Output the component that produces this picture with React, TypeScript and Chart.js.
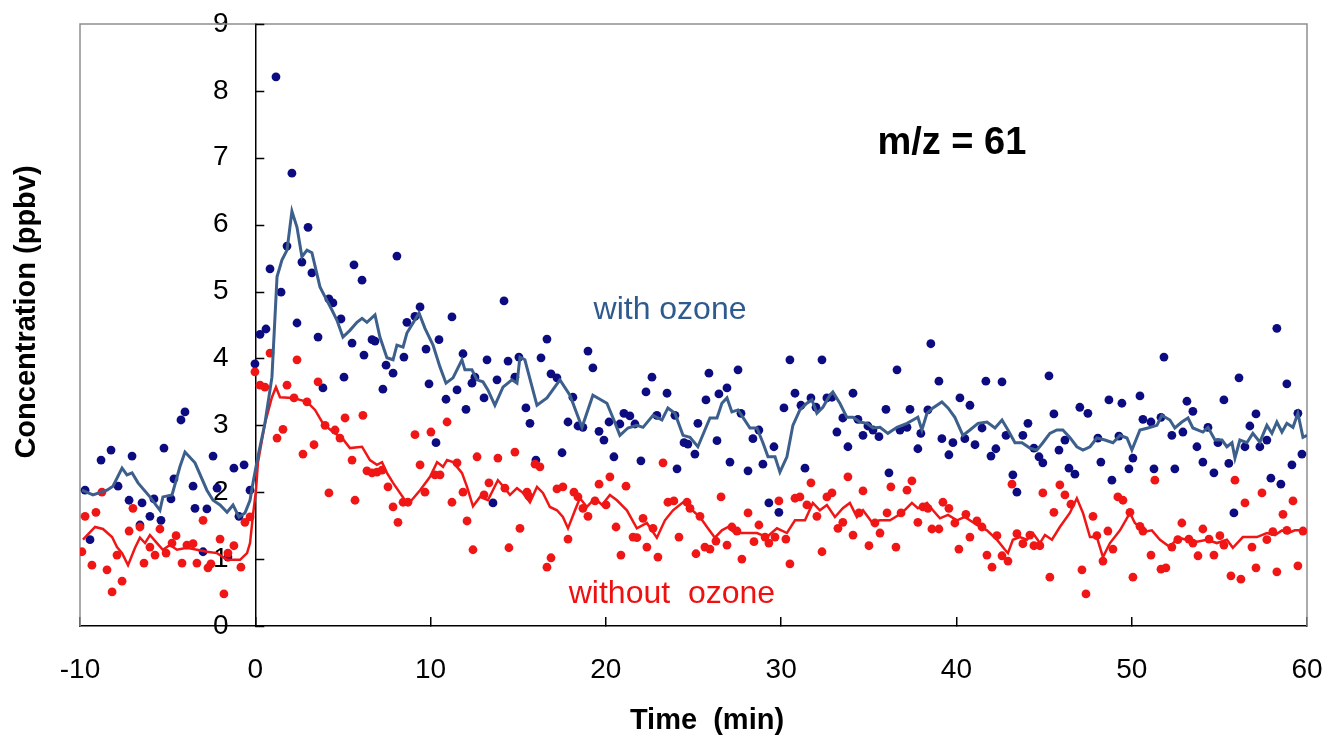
import React, { useEffect, useRef } from "react";
import { Chart, registerables } from "chart.js";

Chart.register(...registerables);

// ---- Axis settings ----
const xMin = -10;
const xMax = 60;
const xStep = 10;
const yMin = 0;
const yMax = 9;
const yStep = 1;
const xTitle = "Time  (min)";
const yTitle = "Concentration (ppbv)";

// ---- Annotation texts ----
const labelMz = "m/z = 61";
const labelWith = "with ozone";
const labelWithout = "without  ozone";

// ---- With ozone: individual measurements ----
const blueDotX = [
  -9.71, -9.43, -8.8, -8.23, -7.83, -7.2, -7.03, -6.58, -6.46, -6.01, -5.78, -5.38, -5.21, -4.81, -4.64, -4.24, -4.01, -3.55, -3.44, -2.98,
  -2.76, -2.41, -2.18, -1.56, -1.22, -0.93, -0.64, -0.3, -0.02, 0.27, 0.61, 0.84, 1.18, 1.47, 1.81, 2.09, 2.38, 2.66, 3.01, 3.23,
  3.58, 3.86, 4.2, 4.43, 4.89, 5.06, 5.52, 5.63, 6.09, 6.2, 6.66, 6.83, 7.28, 7.46, 7.86, 8.08, 8.48, 8.65, 9.11, 9.4,
  9.74, 9.91, 10.31, 10.48, 10.88, 11.22, 11.51, 11.85, 12.02, 12.36, 12.53, 13.05, 13.22, 13.56, 13.79, 14.19, 14.42, 14.81, 15.04, 15.44,
  15.67, 16.01, 16.3, 16.64, 16.87, 17.21, 17.5, 17.84, 18.12, 18.41, 18.69, 18.98, 19.26, 19.61, 19.89, 20.18, 20.46, 20.8, 21.03, 21.37,
  21.66, 22.0, 22.29, 22.63, 22.91, 23.49, 23.94, 24.06, 24.46, 24.68, 25.08, 25.25, 25.71, 25.88, 26.34, 26.45, 26.91, 27.08, 27.54, 27.71,
  28.11, 28.39, 28.73, 28.96, 29.3, 29.59, 29.87, 30.16, 30.5, 30.79, 31.13, 31.36, 31.7, 31.99, 32.33, 32.61, 32.9, 33.18, 33.52, 33.81,
  34.1, 34.38, 34.67, 34.95, 35.24, 35.58, 35.98, 36.15, 36.61, 36.78, 37.18, 37.35, 37.8, 37.97, 38.37, 38.54, 39.0, 39.17, 39.57, 39.8,
  40.2, 40.48, 40.77, 41.06, 41.46, 41.68, 41.97, 42.25, 42.6, 42.83, 43.22, 43.45, 43.79, 44.08, 44.42, 44.71, 44.93, 45.28, 45.56, 45.85,
  46.19, 46.42, 46.76, 47.04, 47.5, 48.07, 48.24, 48.7, 48.87, 49.27, 49.44, 49.84, 50.07, 50.47, 50.64, 51.1, 51.27, 51.67, 51.84, 52.29,
  52.46, 52.92, 53.15, 53.49, 53.72, 54.06, 54.35, 54.69, 54.92, 55.26, 55.54, 55.83, 56.12, 56.46, 56.74, 57.09, 57.31, 57.71, 57.94, 58.28,
  58.51, 58.85, 59.14, 59.48, 59.71,
];
const blueDotY = [
  2.03, 1.29, 2.48, 2.63, 2.09, 1.88, 2.54, 1.51, 1.84, 1.64, 1.9, 1.58, 2.66, 1.9, 2.2, 3.08, 3.2, 2.09, 1.76, 1.11,
  1.75, 2.54, 2.06, 1.03, 2.36, 1.64, 2.41, 2.03, 3.92, 4.36, 4.44, 5.34, 8.21, 4.99, 5.68, 6.77, 4.53, 5.44, 5.96, 5.28,
  4.32, 3.56, 4.89, 4.83, 4.59, 3.72, 4.23, 5.4, 5.17, 4.05, 4.28, 4.26, 3.54, 3.9, 3.78, 5.53, 4.02, 4.54, 4.63, 4.77,
  4.14, 3.62, 2.74, 4.28, 3.39, 4.62, 3.53, 4.07, 3.24, 3.63, 3.72, 3.41, 3.98, 1.84, 3.68, 4.86, 3.96, 3.72, 4.02, 3.26,
  3.03, 2.48, 4.01, 4.29, 3.77, 3.71, 2.59, 3.05, 3.42, 2.99, 2.97, 4.11, 3.86, 2.91, 2.78, 3.05, 2.53, 3.02, 3.18, 3.14,
  3.02, 2.47, 3.5, 3.72, 3.15, 3.48, 3.15, 2.35, 2.74, 2.72, 2.57, 3.03, 3.38, 3.78, 2.77, 3.47, 3.56, 2.45, 3.83, 3.18,
  2.32, 2.8, 2.93, 2.42, 1.84, 2.68, 1.7, 3.26, 3.98, 3.48, 3.3, 2.36, 3.41, 3.27, 3.98, 3.41, 3.42, 2.9, 3.11, 2.68,
  3.48, 3.09, 2.85, 2.99, 2.93, 2.83, 3.24, 2.29, 3.83, 2.93, 2.97, 3.24, 2.65, 2.88, 3.23, 4.22, 3.66, 2.8, 2.56, 2.74,
  3.41, 2.8, 3.3, 2.71, 2.96, 3.66, 2.54, 2.65, 3.65, 2.85, 2.26, 2.0, 2.85, 3.03, 2.66, 2.53, 2.44, 3.74, 3.17, 2.63,
  2.78, 2.36, 2.27, 3.27, 3.18, 2.81, 2.45, 3.38, 2.18, 2.84, 3.33, 2.35, 2.51, 3.44, 3.09, 3.05, 2.35, 3.12, 4.02, 2.85,
  2.35, 2.9, 3.36, 3.21, 2.68, 2.45, 2.97, 2.29, 2.74, 3.38, 2.43, 1.69, 3.71, 2.68, 2.99, 3.17, 2.68, 2.78, 2.21, 4.45,
  2.12, 3.62, 2.41, 3.18, 2.57,
];

// ---- Without ozone: individual measurements ----
const redDotX = [
  -9.89, -9.71, -9.32, -9.09, -8.75, -8.46, -8.17, -7.89, -7.6, -7.2, -6.98, -6.58, -6.35, -6.01, -5.72, -5.44, -5.09, -4.75, -4.52, -4.18,
  -3.9, -3.55, -3.33, -2.98, -2.7, -2.53, -2.01, -1.79, -1.56, -1.22, -0.82, -0.59, -0.3, -0.02, 0.27, 0.55, 0.84, 1.24, 1.58, 1.81,
  2.21, 2.38, 2.72, 2.95, 3.35, 3.58, 3.98, 4.2, 4.55, 4.83, 5.12, 5.52, 5.69, 6.14, 6.37, 6.66, 6.94, 7.23, 7.57, 7.86,
  8.14, 8.43, 8.71, 9.11, 9.4, 9.68, 10.02, 10.25, 10.54, 10.94, 11.22, 11.51, 11.85, 12.08, 12.42, 12.65, 13.05, 13.33, 13.84, 14.24,
  14.47, 14.81, 15.1, 15.5, 15.61, 15.96, 16.24, 16.64, 16.87, 17.21, 17.55, 17.84, 18.18, 18.41, 18.69, 18.98, 19.38, 19.61, 20.01, 20.23,
  20.58, 20.86, 21.15, 21.55, 21.77, 22.12, 22.34, 22.69, 22.97, 23.26, 23.54, 23.88, 24.17, 24.63, 24.8, 25.14, 25.37, 25.65, 25.94, 26.28,
  26.57, 26.91, 27.19, 27.48, 27.76, 28.11, 28.45, 28.73, 29.08, 29.3, 29.65, 29.87, 30.27, 30.5, 30.79, 31.07, 31.47, 31.7, 32.04, 32.33,
  32.61, 32.9, 33.24, 33.52, 33.81, 34.1, 34.44, 34.67, 35.01, 35.35, 35.64, 36.04, 36.26, 36.55, 36.84, 37.18, 37.46, 37.8, 38.09, 38.37,
  38.6, 39.0, 39.23, 39.57, 39.91, 40.14, 40.54, 40.77, 41.17, 41.46, 41.74, 42.03, 42.31, 42.6, 42.94, 43.17, 43.45, 43.79, 44.19, 44.42,
  44.76, 44.93, 45.33, 45.56, 45.9, 46.19, 46.53, 47.16, 47.39, 47.79, 48.01, 48.36, 48.64, 48.93, 49.21, 49.5, 49.9, 50.07, 50.47, 50.64,
  51.1, 51.32, 51.67, 51.95, 52.29, 52.63, 52.86, 53.26, 53.49, 53.78, 54.06, 54.41, 54.69, 55.03, 55.26, 55.66, 55.89, 56.23, 56.46, 56.86,
  57.09, 57.43, 57.71, 58.05, 58.28, 58.63, 58.85, 59.2, 59.48, 59.77,
];
const redDotY = [
  1.11, 1.64, 0.91, 1.7, 2.0, 0.84, 0.51, 1.06, 0.67, 1.42, 1.76, 1.48, 0.94, 1.18, 1.06, 1.45, 1.09, 1.24, 1.35, 0.94,
  1.21, 1.23, 0.94, 1.58, 0.87, 0.93, 1.3, 0.48, 1.09, 1.2, 0.88, 1.55, 1.63, 3.8, 3.6, 3.57, 4.08, 2.81, 2.94, 3.6,
  3.41, 3.98, 2.57, 3.35, 2.71, 3.65, 3.0, 1.99, 2.93, 2.81, 3.11, 2.48, 1.88, 3.15, 2.32, 2.29, 2.3, 2.33, 2.08, 1.78,
  1.55, 1.85, 1.85, 2.86, 2.41, 2.0, 2.9, 2.26, 2.26, 3.05, 1.85, 2.44, 2.0, 1.57, 1.14, 2.53, 1.96, 2.14, 2.51, 2.06,
  1.17, 2.6, 1.46, 2.0, 1.94, 2.42, 2.38, 0.88, 1.02, 2.05, 2.08, 1.3, 2.0, 1.93, 1.76, 1.64, 1.87, 2.12, 1.81, 2.23,
  1.48, 1.06, 2.09, 1.33, 1.32, 1.61, 1.18, 1.46, 1.03, 2.44, 1.85, 1.87, 1.33, 1.85, 1.76, 1.08, 1.64, 1.18, 1.15, 1.27,
  1.93, 1.21, 1.48, 1.42, 1.0, 1.69, 1.26, 1.51, 1.33, 1.24, 1.33, 1.87, 1.3, 0.93, 1.91, 1.93, 1.81, 2.14, 1.64, 1.11,
  1.93, 1.99, 1.46, 1.55, 2.23, 1.36, 1.69, 2.02, 1.2, 1.54, 1.39, 1.69, 2.08, 1.18, 1.69, 2.03, 2.17, 1.55, 1.78, 1.76,
  1.45, 1.45, 1.85, 1.76, 1.54, 1.15, 1.67, 1.33, 1.57, 1.48, 1.06, 0.88, 1.35, 1.05, 0.97, 2.12, 1.38, 1.23, 1.36, 1.2,
  1.2, 1.99, 0.73, 1.7, 2.11, 1.96, 1.82, 0.84, 0.48, 1.64, 1.35, 0.97, 1.42, 1.15, 1.93, 1.88, 1.7, 0.73, 1.49, 1.42,
  1.06, 2.18, 0.85, 0.87, 1.18, 1.29, 1.54, 1.3, 1.24, 1.05, 1.45, 1.3, 1.06, 1.35, 1.21, 0.75, 2.18, 0.7, 1.84, 1.18,
  0.87, 1.99, 1.29, 1.41, 0.81, 1.67, 1.43, 1.87, 0.9, 1.42,
];

// ---- With ozone: running average ----
const blueLineX = [
  -9.89, -9.26, -8.46, -8.12, -7.6, -7.32, -7.03, -6.69, -6.01, -5.44, -5.27, -4.75, -4.3, -4.01, -3.44, -2.76, -2.41, -2.01, -1.61, -1.27,
  -0.93, -0.59, -0.3, -0.13, 0.15, 0.55, 0.95, 1.24, 1.52, 1.81, 2.09, 2.38, 2.66, 2.95, 3.23, 3.69, 3.98, 4.38, 4.66, 5.0,
  5.4, 5.8, 6.09, 6.37, 6.83, 7.11, 7.51, 7.86, 8.08, 8.43, 8.65, 9.0, 9.34, 9.68, 10.14, 10.54, 10.88, 11.28, 11.79, 11.96,
  12.36, 12.65, 12.99, 13.27, 13.67, 14.13, 14.64, 14.93, 15.1, 15.38, 16.07, 16.64, 17.38, 17.95, 18.64, 19.26, 20.06, 20.41, 20.8, 21.26,
  21.77, 22.12, 22.69, 23.2, 23.54, 23.94, 24.4, 24.8, 25.25, 25.65, 25.94, 26.34, 26.62, 26.91, 27.19, 27.54, 27.82, 28.22, 28.62, 28.96,
  29.25, 29.65, 29.93, 30.33, 30.67, 31.07, 31.47, 31.76, 32.04, 32.38, 32.78, 32.95, 33.35, 33.75, 34.1, 34.49, 34.89, 35.24, 35.64, 36.09,
  36.61, 37.18, 37.52, 37.8, 38.03, 38.32, 38.66, 39.17, 39.52, 39.91, 40.37, 40.77, 41.23, 41.74, 42.2, 42.6, 42.94, 43.34, 43.74, 44.19,
  44.59, 44.93, 45.33, 45.73, 46.07, 46.47, 46.87, 47.22, 47.62, 48.01, 48.47, 48.93, 49.33, 49.73, 50.01, 50.47, 50.92, 51.44, 51.72, 52.18,
  52.46, 52.86, 53.21, 53.49, 54.06, 54.35, 54.75, 55.15, 55.43, 55.72, 55.89, 56.17, 56.57, 56.91, 57.31, 57.71, 58.0, 58.28, 58.57, 58.85,
  59.2, 59.48, 59.77, 60.0,
];
const blueLineY = [
  2.03, 1.96, 2.03, 2.09, 2.36, 2.26, 2.29, 2.14, 1.93, 1.73, 1.93, 1.96, 2.38, 2.6, 2.44, 2.03, 1.88, 1.81, 1.7, 1.81,
  1.63, 1.69, 1.88, 2.14, 2.53, 3.03, 3.72, 5.22, 5.47, 5.62, 6.2, 5.96, 5.52, 5.62, 5.58, 5.07, 4.92, 4.72, 4.57, 4.32,
  4.42, 4.54, 4.6, 4.54, 4.65, 4.32, 4.01, 3.98, 4.2, 4.17, 4.38, 4.53, 4.68, 4.45, 4.2, 3.87, 3.63, 3.71, 3.98, 3.83,
  3.83, 3.68, 3.65, 3.53, 3.3, 3.57, 3.68, 3.63, 4.02, 3.98, 3.3, 3.41, 3.68, 3.45, 2.97, 3.45, 3.33, 3.11, 2.85, 2.96,
  3.0, 2.97, 3.15, 3.08, 3.26, 3.18, 2.85, 2.82, 2.68, 2.93, 3.11, 3.11, 3.33, 3.41, 3.2, 3.23, 3.12, 2.96, 2.96, 2.74,
  2.53, 2.53, 2.3, 2.53, 3.0, 3.23, 3.33, 3.38, 3.18, 3.27, 3.45, 3.5, 3.33, 3.12, 3.12, 3.05, 3.03, 2.96, 2.97, 2.88,
  2.97, 3.03, 3.08, 3.12, 2.93, 3.18, 3.26, 3.35, 3.26, 3.12, 2.85, 2.93, 3.03, 3.05, 2.96, 3.08, 2.93, 2.74, 2.74, 2.66,
  2.63, 2.74, 2.88, 2.93, 2.93, 2.82, 2.68, 2.63, 2.68, 2.81, 2.78, 2.74, 2.85, 2.81, 2.63, 2.93, 2.96, 3.0, 3.15, 3.08,
  2.96, 3.05, 3.11, 2.96, 2.9, 2.97, 2.78, 2.78, 2.68, 2.74, 2.51, 2.78, 2.74, 2.88, 2.75, 3.0, 2.88, 3.05, 2.9, 3.03,
  2.97, 3.18, 2.82, 2.85,
];

// ---- Without ozone: running average ----
const redLineX = [
  -9.83, -9.14, -8.69, -8.17, -7.89, -7.6, -7.26, -6.86, -6.58, -6.29, -6.01, -5.61, -5.27, -4.87, -4.47, -3.9, -3.33, -2.76, -2.18, -1.61,
  -1.27, -0.87, -0.47, -0.3, -0.13, 0.04, 0.15, 0.55, 0.95, 1.18, 1.41, 2.15, 2.95, 3.41, 3.86, 4.43, 4.95, 5.4, 6.09, 6.54,
  6.94, 7.23, 7.51, 7.86, 8.54, 8.82, 9.4, 9.97, 10.37, 10.71, 10.94, 11.28, 11.79, 12.08, 12.42, 12.82, 13.27, 13.84, 14.24, 14.53,
  14.93, 15.27, 15.67, 16.07, 16.41, 16.81, 17.21, 17.55, 17.84, 18.24, 18.52, 18.92, 19.38, 19.78, 20.23, 20.63, 21.2, 21.77, 22.34, 22.91,
  23.37, 23.83, 24.4, 24.8, 25.37, 25.77, 26.22, 26.62, 26.97, 27.36, 27.93, 28.62, 29.19, 29.76, 30.33, 30.79, 31.36, 31.81, 32.21, 32.61,
  33.07, 33.52, 33.92, 34.32, 34.67, 35.18, 35.64, 36.21, 36.89, 37.46, 37.8, 38.32, 38.66, 39.06, 39.52, 40.03, 40.48, 41.17, 41.74, 42.31,
  42.77, 42.94, 43.22, 43.62, 44.02, 44.36, 44.76, 45.05, 45.45, 45.9, 46.47, 46.87, 47.22, 47.62, 48.01, 48.36, 48.76, 49.33, 49.9, 50.18,
  50.75, 51.15, 51.61, 52.18, 52.63, 53.15, 53.72, 54.29, 54.86, 55.43, 55.77, 56.34, 57.14, 57.71, 58.17, 58.57, 58.91, 59.31, 60.0,
];
const redLineY = [
  1.29, 1.48, 1.45, 1.33, 1.18, 1.09, 0.91, 1.17, 1.32, 1.24, 1.36, 1.24, 1.14, 1.21, 1.14, 1.17, 1.14, 1.11, 1.09, 0.99,
  0.99, 0.99, 1.09, 1.24, 1.66, 2.03, 2.44, 3.03, 3.42, 3.57, 3.42, 3.41, 3.35, 3.23, 3.03, 2.9, 2.81, 2.66, 2.68, 2.48,
  2.41, 2.45, 2.29, 2.14, 1.88, 1.85, 2.03, 2.23, 2.45, 2.38, 2.48, 2.45, 2.29, 2.08, 1.79, 1.93, 1.88, 2.18, 2.06, 1.96,
  2.06, 1.99, 1.85, 2.08, 1.99, 1.78, 1.73, 1.63, 1.46, 1.73, 1.91, 1.78, 1.91, 1.81, 1.96, 1.88, 1.73, 1.46, 1.54, 1.32,
  1.58, 1.73, 1.85, 1.76, 1.63, 1.48, 1.32, 1.43, 1.48, 1.39, 1.39, 1.39, 1.33, 1.46, 1.39, 1.58, 1.58, 1.84, 1.73, 1.81,
  1.63, 1.76, 1.84, 1.63, 1.73, 1.55, 1.58, 1.58, 1.69, 1.84, 1.76, 1.84, 1.73, 1.61, 1.66, 1.58, 1.63, 1.51, 1.43, 1.29,
  1.14, 1.09, 1.29, 1.33, 1.29, 1.39, 1.24, 1.36, 1.29, 1.48, 1.69, 1.91, 1.69, 1.33, 1.33, 1.03, 1.24, 1.43, 1.69, 1.54,
  1.41, 1.43, 1.29, 1.18, 1.32, 1.29, 1.26, 1.29, 1.24, 1.29, 1.17, 1.33, 1.33, 1.39, 1.36, 1.43, 1.39, 1.43, 1.43,
];

const pts = (xs: number[], ys: number[]) => xs.map((x, i) => ({ x, y: ys[i] }));

const FONT = "'Liberation Sans', Arial, sans-serif";
const BLUE_DOT = "#0c0c80";
const BLUE_LINE = "#3c5f8c";
const RED = "#f01616";

const zeroPad = (s: any) => {
  s.paddingTop = 0;
  s.paddingBottom = 0;
  s.paddingLeft = 0;
  s.paddingRight = 0;
};

export default function App() {
  const ref = useRef<HTMLCanvasElement>(null);

  useEffect(() => {
    document.body.style.margin = "0";
    const canvas = ref.current;
    if (!canvas) return;

    const framePlugin = {
      id: "frame",
      afterLayout(chart: any) {
        // shift axis titles to where the reference has them
        const y2 = chart.scales.y2;
        if (y2) {
          y2.bottom = 600;
          y2.height = y2.bottom - y2.top;
        }
        const x2 = chart.scales.x2;
        if (x2) {
          x2.left = x2.left + 27;
          x2.width = x2.right - x2.left;
        }
      },
      beforeDatasetsDraw(chart: any) {
        const { ctx, chartArea } = chart;
        ctx.save();
        ctx.strokeStyle = "#8e8e8e";
        ctx.lineWidth = 1.5;
        ctx.beginPath();
        ctx.moveTo(chartArea.left, chartArea.bottom);
        ctx.lineTo(chartArea.left, chartArea.top);
        ctx.lineTo(chartArea.right, chartArea.top);
        ctx.lineTo(chartArea.right, chartArea.bottom);
        ctx.stroke();
        // tick marks on the y axis (pointing inward, to the right)
        const ys = chart.scales.y;
        const x0 = chart.scales.x.getPixelForValue(0);
        ctx.strokeStyle = "#000";
        ctx.beginPath();
        for (const t of ys.ticks) {
          const p = Math.round(ys.getPixelForValue(t.value)) + 0.5;
          ctx.moveTo(x0, p);
          ctx.lineTo(x0 + 9, p);
        }
        ctx.stroke();
        ctx.restore();
      },
      afterDatasetsDraw(chart: any) {
        const { ctx, scales } = chart;
        const px = (v: number) => scales.x.getPixelForValue(v);
        const py = (v: number) => scales.y.getPixelForValue(v);
        ctx.save();
        ctx.textAlign = "center";
        ctx.textBaseline = "middle";
        ctx.fillStyle = "#000";
        ctx.font = `bold 38px ${FONT}`;
        ctx.fillText(labelMz, px(39.74), py(7.22));
        ctx.fillStyle = "#2f5a8e";
        ctx.font = `32px ${FONT}`;
        ctx.fillText(labelWith, px(23.66), py(4.72));
        ctx.fillStyle = "#f01010";
        ctx.fillText(labelWithout, px(23.77), py(0.48));
        ctx.restore();
      },
    };

    const chart = new Chart(canvas, {
      type: "scatter",
      data: {
        datasets: [
          {
            label: "with ozone (average)",
            data: pts(blueLineX, blueLineY),
            showLine: true,
            borderColor: BLUE_LINE,
            borderWidth: 3,
            pointRadius: 0,
            tension: 0,
          },
          {
            label: "without ozone (average)",
            data: pts(redLineX, redLineY),
            showLine: true,
            borderColor: RED,
            borderWidth: 2.5,
            pointRadius: 0,
            tension: 0,
          },
          {
            label: "without ozone",
            data: pts(redDotX, redDotY),
            backgroundColor: RED,
            borderWidth: 0,
            pointRadius: 4.4,
          },
          {
            label: "with ozone",
            data: pts(blueDotX, blueDotY),
            backgroundColor: BLUE_DOT,
            borderWidth: 0,
            pointRadius: 4.4,
          },
        ],
      } as any,
      options: {
        animation: false,
        responsive: false,
        maintainAspectRatio: false,
        layout: { padding: { top: 24, right: 19, left: 0, bottom: 0 } },
        plugins: { legend: { display: false }, tooltip: { enabled: false } },
        scales: {
          x: {
            type: "linear",
            position: "bottom",
            min: xMin,
            max: xMax,
            ticks: {
              stepSize: xStep,
              color: "#000",
              font: { family: FONT, size: 28 },
              padding: 36,
              maxRotation: 0,
            },
            grid: { drawOnChartArea: false, drawTicks: true, tickLength: -9, color: "#000", lineWidth: 1.5 },
            border: { display: true, color: "#000", width: 1.5 },
            afterFit: (s: any) => {
              s.height = 72;
              zeroPad(s);
            },
          },
          x2: {
            type: "linear",
            position: "bottom",
            min: xMin,
            max: xMax,
            ticks: { display: false },
            grid: { display: false, drawTicks: false },
            border: { display: false },
            title: {
              display: true,
              text: xTitle,
              color: "#000",
              font: { family: FONT, size: 29, weight: "bold" },
              padding: { top: 0, bottom: 2 },
            },
            afterFit: (s: any) => {
              s.height = 42;
              zeroPad(s);
            },
          },
          y: {
            type: "linear",
            position: { x: 0 } as any,
            min: yMin,
            max: yMax,
            ticks: { display: false, stepSize: yStep },
            grid: { display: false, drawTicks: false },
            border: { display: true, color: "#000", width: 1.5 },
            afterFit: (s: any) => {
              zeroPad(s);
            },
          },
          y2: {
            type: "linear",
            position: "left",
            min: yMin,
            max: yMax,
            ticks: {
              display: true,
              stepSize: yStep,
              mirror: true,
              padding: 133,
              color: "#000",
              font: { family: FONT, size: 28 },
            },
            grid: { display: false, drawTicks: false },
            border: { display: false },
            title: {
              display: true,
              text: yTitle,
              color: "#000",
              font: { family: FONT, size: 29, weight: "bold" },
              padding: { top: 10, bottom: 0 },
            },
            afterFit: (s: any) => {
              s.width = 80;
              zeroPad(s);
            },
          },
        },
      } as any,
      plugins: [framePlugin],
    });
    return () => chart.destroy();
  }, []);

  return <canvas ref={ref} width={1326} height={740} style={{ display: "block" }} />;
}
